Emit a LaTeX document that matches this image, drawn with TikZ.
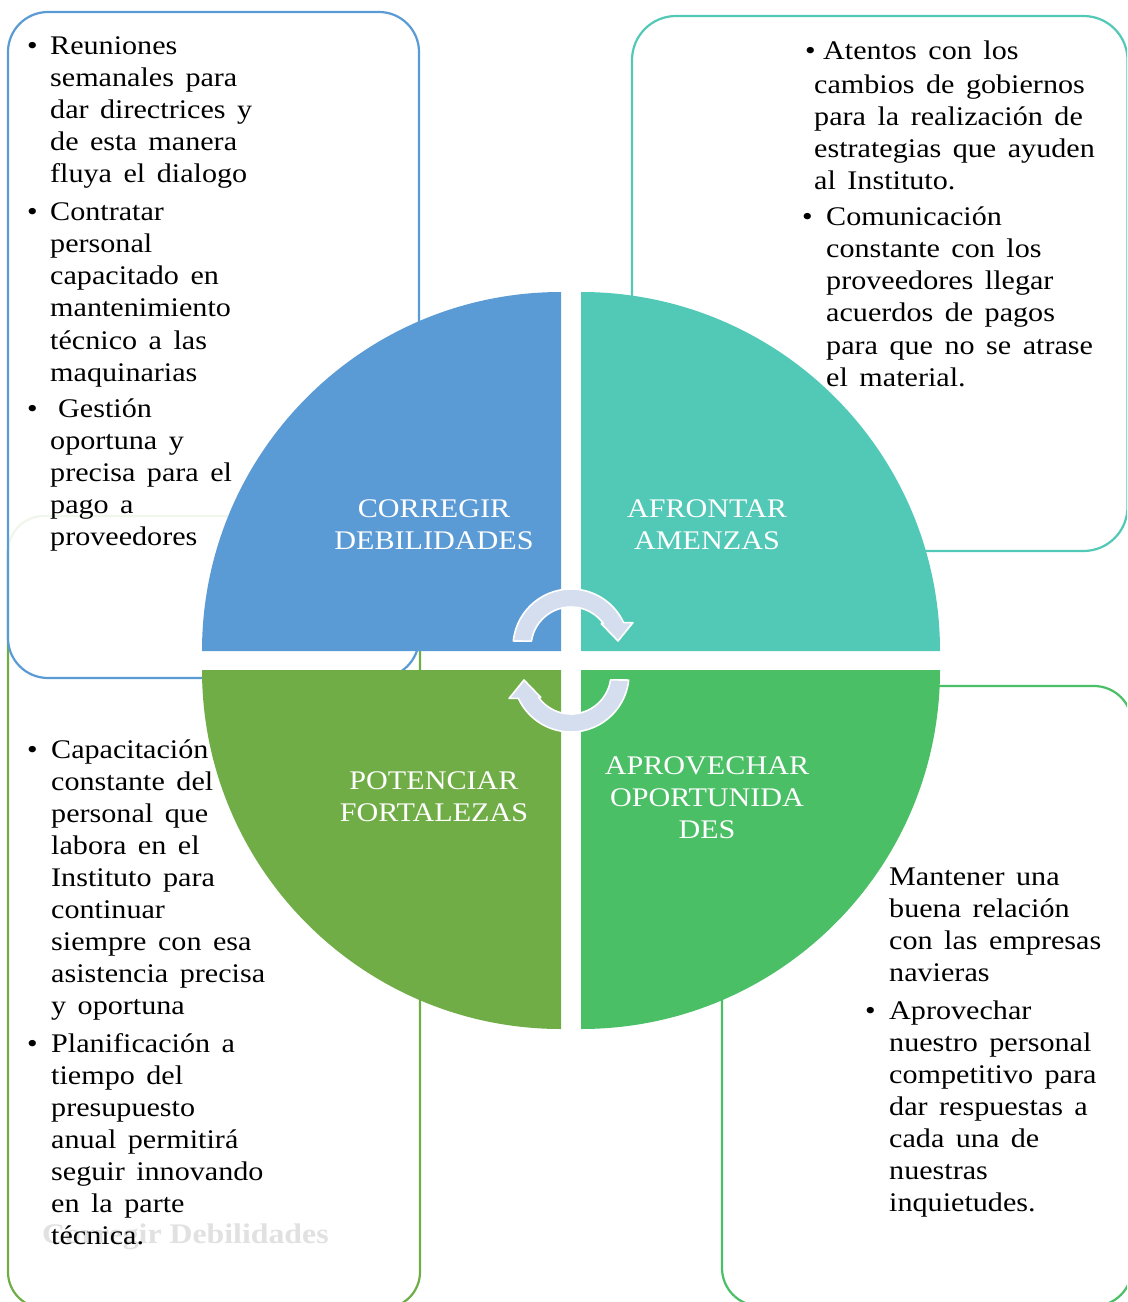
\documentclass[tikz,border=0pt]{standalone}
\usepackage{fontspec}
\setmainfont{Liberation Serif}[FakeStretch=1.12]
\definecolor{cblue}{RGB}{91,155,213}
\definecolor{cteal}{RGB}{82,201,183}
\definecolor{clgreen}{RGB}{112,173,71}
\definecolor{cgreen}{RGB}{74,191,101}
\definecolor{arrowfill}{RGB}{213,222,239}
\definecolor{fadegray}{RGB}{225,225,225}
\newcommand\txtfont{\fontsize{27}{32}\selectfont\spaceskip 11.5bp plus 2bp\relax}
\tikzset{
  txt/.style={font=\txtfont, inner sep=0pt, anchor=base west, text=black},
  lbl/.style={font=\fontsize{27}{32}\selectfont, inner sep=0pt, anchor=base, text=white},
  boxline/.style={line width=2.2bp},
  cyc/.style={fill=arrowfill, draw=white, line width=1.6bp, line join=round},
}
\newcommand\paralines[4]{\foreach \ln [count=\k from 0] in {#4}{\node[txt] (#1\k) at (#2,{-(#3+32*\k)}) {\ln};}}
\begin{document}
\begin{tikzpicture}[x=1bp,y=1bp]
\useasboundingbox (0,0) rectangle (1127,-1302);
\clip (0,0) rectangle (1127,-1302);
% boxes
\draw[boxline, draw=clgreen, fill=white, rounded corners=36bp] (8,-516) rectangle (420,-1308);
\draw[boxline, draw=cblue, fill=white, fill opacity=0.9, rounded corners=40bp] (8,-12) rectangle (419,-678);
\draw[boxline, draw=cteal, fill=white, rounded corners=44bp] (632,-16) rectangle (1127.5,-551);
\draw[boxline, draw=cgreen, fill=white, rounded corners=38bp] (722,-686) rectangle (1132,-1306);
% quadrants
\fill[cblue] (561,-651) -- (202,-651) arc[start angle=180, end angle=90, radius=359] -- cycle;
\fill[cteal] (581,-651) -- (581,-292) arc[start angle=90, end angle=0, radius=359] -- cycle;
\fill[clgreen] (561,-670) -- (561,-1029) arc[start angle=270, end angle=180, radius=359] -- cycle;
\fill[cgreen] (581,-670) -- (940,-670) arc[start angle=0, end angle=-90, radius=359] -- cycle;
% quadrant labels
\node[lbl] (q1a) at (434,-517) {CORREGIR};
\node[lbl] (q1b) at (434,-549) {DEBILIDADES};
\node[lbl] (q2a) at (707,-517) {AFRONTAR};
\node[lbl] (q2b) at (707,-549) {AMENZAS};
\node[lbl] (q3a) at (434,-789) {POTENCIAR};
\node[lbl] (q3b) at (434,-821) {FORTALEZAS};
\node[lbl] (q4a) at (707,-774) {APROVECHAR};
\node[lbl] (q4b) at (707,-806) {OPORTUNIDA};
\node[lbl] (q4c) at (707,-838) {DES};
% cycle arrows
\begin{scope}[shift={(571,-647)}]
\draw[cyc] (174:58) arc[start angle=174, end angle=24.9, radius=58] -- (21.5:66.5) -- (7.3:47.4) -- (37.7:38.2) -- (35.8:40) arc[start angle=35.8, end angle=171.6, radius=40] -- cycle;
\end{scope}
\begin{scope}[shift={(571,-674)}]
\draw[cyc] (354:58) arc[start angle=354, end angle=204.9, radius=58] -- (201.5:66.5) -- (187.3:47.4) -- (217.7:38.2) -- (215.8:40) arc[start angle=215.8, end angle=351.6, radius=40] -- cycle;
\end{scope}
% faded watermark text
\node[txt, font=\fontsize{28.5}{32}\selectfont\bfseries, text=fadegray] (wm) at (42,-1243) {Corregir Debilidades};
% box 1 text
\node[txt] (b1a) at (27,-55) {•};
\paralines{t1a}{50}{55}{Reuniones,semanales para,dar directrices y,de esta manera,fluya el dialogo}
\node[txt] (b1b) at (27,-221) {•};
\paralines{t1b}{50}{221}{Contratar,personal,capacitado en,mantenimiento,técnico a las,maquinarias}
\node[txt] (b1c) at (27,-417) {•};
\node[txt] (t1c) at (58,-417) {Gestión};
\paralines{t1d}{50}{449}{oportuna y,precisa para el,pago a,proveedores}
% box 2 text
\node[txt] (b2a) at (805,-60) {•};
\node[txt] (t2a) at (823,-60) {Atentos con los};
\paralines{t2b}{814}{94}{cambios de gobiernos,para la realización de,estrategias que ayuden,al Instituto.}
\node[txt] (b2b) at (802,-226) {•};
\paralines{t2c}{826}{226}{Comunicación,constante con los,proveedores llegar,acuerdos de pagos,para que no se atrase,el material.}
% box 3 text
\node[txt] (b3a) at (27,-758) {•};
\paralines{t3a}{51}{758}{Capacitación,constante del,personal que,labora en el,Instituto para,continuar,siempre con esa,asistencia precisa,y oportuna}
\node[txt] (b3b) at (27,-1052) {•};
\paralines{t3b}{51}{1052}{Planificación a,tiempo del,presupuesto,anual permitirá,seguir innovando,en la parte,técnica.}
% box 4 text
\paralines{t4a}{889}{885}{Mantener una,buena relación,con las empresas,navieras}
\node[txt] (b4b) at (865,-1019) {•};
\paralines{t4b}{889}{1019}{Aprovechar,nuestro personal,competitivo para,dar respuestas a,cada una de,nuestras,inquietudes.}
\end{tikzpicture}
\end{document}
